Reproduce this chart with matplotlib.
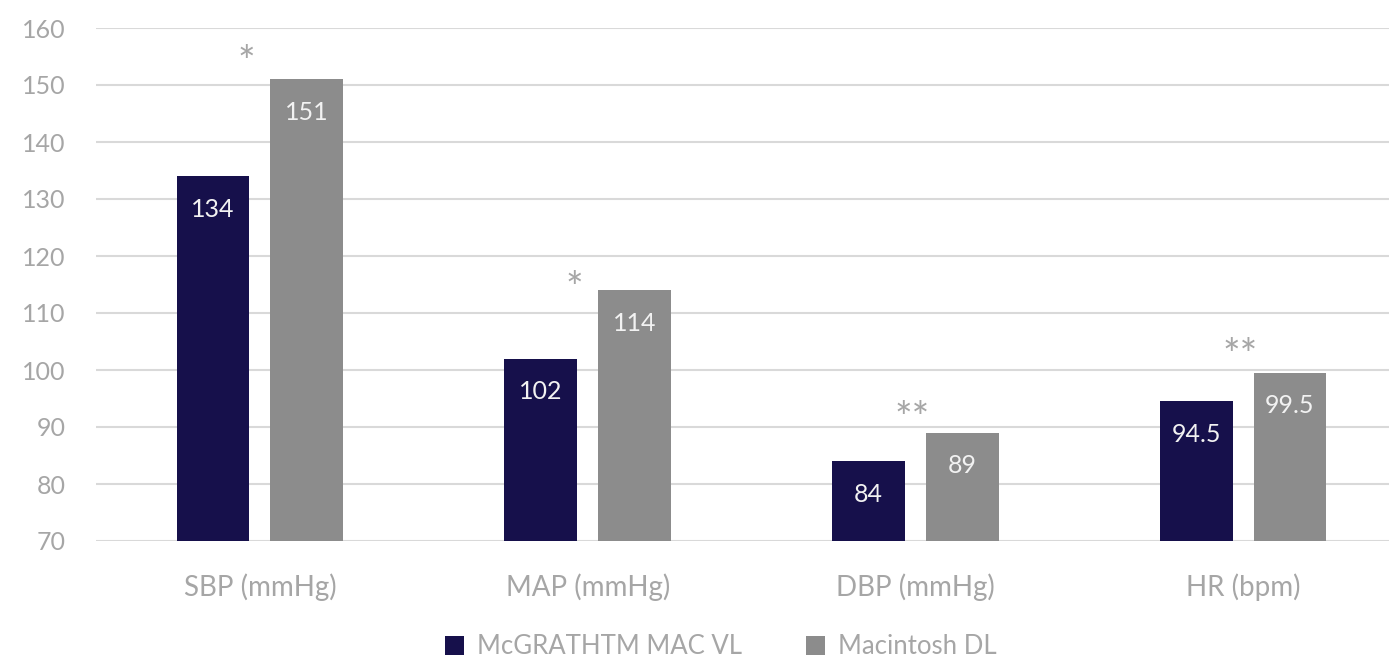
import matplotlib
matplotlib.use("Agg")
import matplotlib.pyplot as plt
import numpy as np
from matplotlib.patches import Patch

categories = ["SBP (mmHg)", "MAP (mmHg)", "DBP (mmHg)", "HR (bpm)"]
series_names = ["McGRATHTM MAC VL", "Macintosh DL"]
mcgrath = [134, 102, 84, 94.5]
macintosh = [151, 114, 89, 99.5]
value_labels_mcgrath = ["134", "102", "84", "94.5"]
value_labels_macintosh = ["151", "114", "89", "99.5"]
sig_marks = ["*", "*", "**", "**"]
sig_y = [153.6, 114.0, 91.2, 102.2]
yticks = [70, 80, 90, 100, 110, 120, 130, 140, 150, 160]

c_dark = "#16104b"
c_gray = "#8c8c8c"
c_text = "#a6a6a6"
c_grid = "#d9d9d9"

plt.rcParams['font.family'] = ['Lato', 'DejaVu Sans']
FS = 18

fig = plt.figure(figsize=(13.89, 6.64), dpi=100)
ax = fig.add_axes([96/1389, 1-541/664, (1407-96)/1389, (541-28)/664])

x = np.arange(len(categories))
off = 0.143
w = 0.2226
ax.bar(x - off, mcgrath, w, color=c_dark, zorder=3)
ax.bar(x + off, macintosh, w, color=c_gray, zorder=3)

ax.set_ylim(70, 160)
ax.set_xlim(-0.5, 3.5)
ax.set_yticks(yticks)
ax.yaxis.grid(True, color=c_grid, linewidth=1.5, zorder=0)
ax.set_axisbelow(True)
for s in ax.spines.values():
    s.set_visible(False)
ax.tick_params(axis='both', length=0, colors=c_text, labelsize=FS)
ax.tick_params(axis='y', pad=22)
ax.tick_params(axis='x', pad=23, labelsize=20)
ax.set_xticks(x)
ax.set_xticklabels(categories)

for i in range(len(categories)):
    ax.text(x[i] - off, mcgrath[i] - 5.8, value_labels_mcgrath[i], ha='center', va='center',
            color='#f2f2f2', fontsize=FS, zorder=4)
    ax.text(x[i] + off, macintosh[i] - 5.8, value_labels_macintosh[i], ha='center', va='center',
            color='#f2f2f2', fontsize=FS, zorder=4)
    dx = -0.04 if len(sig_marks[i]) == 1 else -0.01
    ax.text(x[i] + dx, sig_y[i], sig_marks[i], ha='center', va='center',
            color=c_text, fontsize=30, zorder=4)

handles = [Patch(facecolor=c_dark), Patch(facecolor=c_gray)]
leg = fig.legend(handles, series_names, loc='center', bbox_to_anchor=(0.519, 0.026),
                 ncol=2, frameon=False, fontsize=18.5, handlelength=0.75, handleheight=0.75,
                 columnspacing=2.5, handletextpad=0.5)
for t in leg.get_texts():
    t.set_color(c_text)

fig.savefig("out.png", dpi=100)
